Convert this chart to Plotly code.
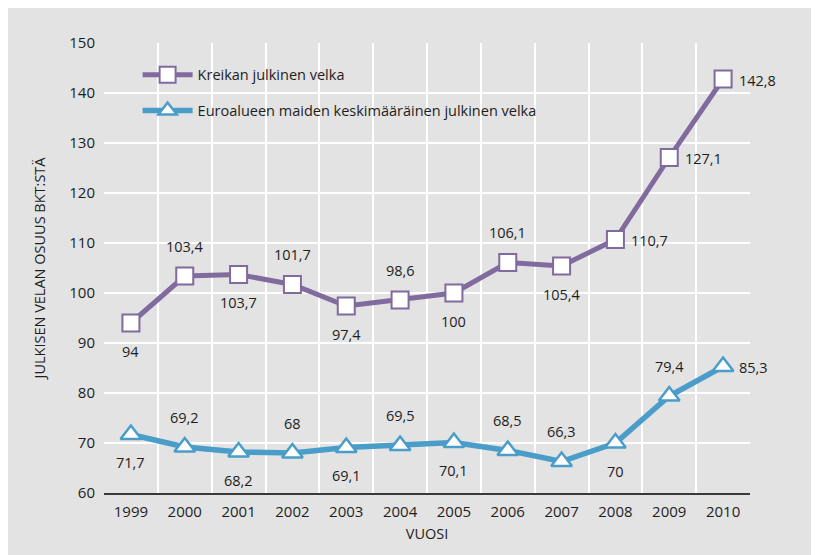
import plotly.graph_objects as go

years = [1999, 2000, 2001, 2002, 2003, 2004, 2005, 2006, 2007, 2008, 2009, 2010]
kreikka = [94, 103.4, 103.7, 101.7, 97.4, 98.6, 100, 106.1, 105.4, 110.7, 127.1, 142.8]
euroalue = [71.7, 69.2, 68.2, 68, 69.1, 69.5, 70.1, 68.5, 66.3, 70, 79.4, 85.3]
kreikka_pos = ["b", "a", "b", "a", "b", "a", "b", "a", "b", "r", "r", "r"]
euro_pos = ["b", "a", "b", "a", "b", "a", "b", "a", "a", "b", "a", "r"]

PURPLE = "#806a9e"
BLUE = "#4a9dc9"
BG = "#e3e3e3"
FONT = "'Open Sans', Lato, sans-serif"
TXT = "#1e1e1e"

def fmt(v):
    return f"{v:g}".replace(".", ",")

fig = go.Figure()
fig.add_trace(go.Scatter(
    x=years, y=kreikka, mode="lines+markers", name="Kreikan julkinen velka",
    line=dict(color=PURPLE, width=5),
    marker=dict(symbol="square", size=17, color="white", line=dict(color=PURPLE, width=2)),
    legendgroup="a", cliponaxis=False))
fig.add_trace(go.Scatter(
    x=years, y=euroalue, mode="lines+markers",
    name="Euroalueen maiden keskimääräinen julkinen velka",
    line=dict(color=BLUE, width=5.5),
    marker=dict(symbol="triangle-up", size=18, color="white", line=dict(color=BLUE, width=2.5)),
    legendgroup="b", cliponaxis=False))

def add_labels(vals, pos):
    for x, v, p in zip(years, vals, pos):
        kw = dict(x=x, y=v, text=fmt(v), showarrow=False,
                  font=dict(family=FONT, size=14.5, color=TXT))
        if p == "a":
            kw.update(yshift=30)
        elif p == "b":
            kw.update(yshift=-28)
        else:
            kw.update(xanchor="left", xshift=14, yshift=-1)
        fig.add_annotation(**kw)

add_labels(kreikka, kreikka_pos)
add_labels(euroalue, euro_pos)

# the page body adds an 8px white margin on top/left, like the reference's white border
fig.update_layout(
    width=811, height=547,
    margin=dict(l=96, r=69, t=35, b=62),
    paper_bgcolor=BG, plot_bgcolor=BG,
    font=dict(family=FONT, size=14.5, color=TXT),
    showlegend=True,
    legend=dict(x=0.052, y=0.965, xanchor="left", yanchor="top",
                bgcolor="rgba(0,0,0,0)", font=dict(size=14.5, color=TXT),
                tracegroupgap=14, itemwidth=50),
    xaxis=dict(range=[1998.5, 2010.5], tickmode="array", tickvals=years,
               ticktext=[str(y) for y in years], showgrid=False, zeroline=False,
               showline=True, linecolor="#3a3a3a", linewidth=2, ticks="",
               tickfont=dict(size=15), ticklabelstandoff=4,
               minor=dict(tick0=1998.5, dtick=1, showgrid=True, gridcolor="white",
                          gridwidth=2, ticks=""),
               title=dict(text="VUOSI", font=dict(size=14.5), standoff=9)),
    yaxis=dict(range=[60, 150], dtick=10, tick0=60, showgrid=True, gridcolor="white",
               gridwidth=2, zeroline=False, showline=False, ticks="",
               tickfont=dict(size=15), ticklabelstandoff=8,
               title=dict(text="JULKISEN VELAN OSUUS BKT:STÄ", font=dict(size=14.5),
                          standoff=20)),
)

fig.write_html("out.html")
